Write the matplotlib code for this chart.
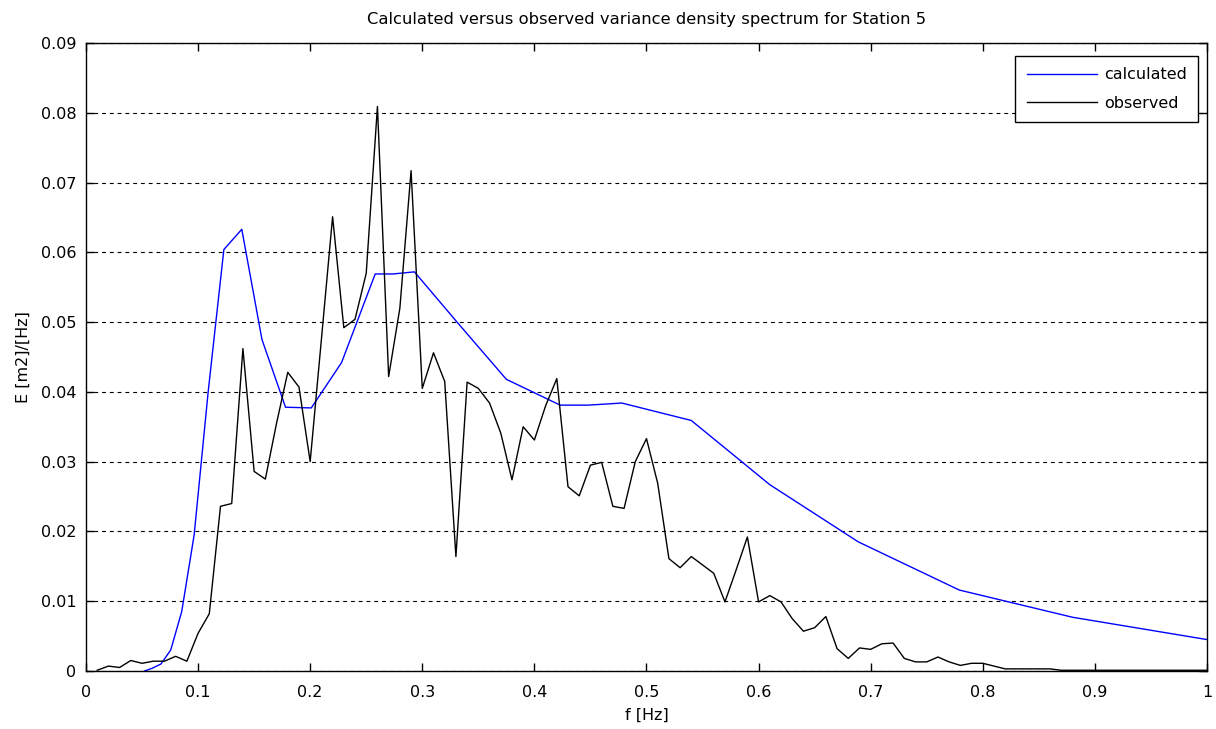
import numpy as np
import matplotlib.pyplot as plt

plt.rcParams['font.family'] = ['DejaVu Sans']

# calculated spectrum (model frequency bins)
f_calc = [0.0524, 0.0592, 0.0669, 0.0756, 0.0854, 0.0965, 0.109, 0.123, 0.139,
          0.157, 0.178, 0.201, 0.228, 0.258, 0.274, 0.293, 0.331, 0.375, 0.423,
          0.448, 0.478, 0.540, 0.610, 0.689, 0.779, 0.880, 1.0]
E_calc = [0.0, 0.0004, 0.0010, 0.0030, 0.0085, 0.0195, 0.0400, 0.0604, 0.0633,
          0.0475, 0.0378, 0.0377, 0.0442, 0.0569, 0.0569, 0.0572, 0.0500, 0.0418, 0.0381,
          0.0381, 0.0384, 0.0359, 0.0267, 0.0185, 0.0116, 0.0077, 0.0045]

# observed spectrum, 0.01 Hz steps from 0.01 to 1.0
E_obs = [0.0001, 0.0007, 0.0005, 0.0015, 0.0011, 0.0014, 0.0014, 0.0021, 0.0014, 0.0054,
         0.0082, 0.0236, 0.0240, 0.0462, 0.0286, 0.0275, 0.0355, 0.0428, 0.0407, 0.0300,
         0.0475, 0.0651, 0.0492, 0.0504, 0.0570, 0.0809, 0.0422, 0.0520, 0.0717, 0.0405,
         0.0456, 0.0415, 0.0164, 0.0414, 0.0405, 0.0384, 0.0341, 0.0274, 0.0350, 0.0331,
         0.0380, 0.0419, 0.0264, 0.0251, 0.0295, 0.0299, 0.0236, 0.0233, 0.0300, 0.0333,
         0.0269, 0.0161, 0.0148, 0.0164, 0.0152, 0.0140, 0.0099, 0.0145, 0.0192, 0.0099,
         0.0108, 0.0099, 0.0075, 0.0057, 0.0062, 0.0078, 0.0032, 0.0018, 0.0033, 0.0031,
         0.0039, 0.0040, 0.0018, 0.0013, 0.0013, 0.0020, 0.0013, 0.0008, 0.0011, 0.0011,
         0.0007, 0.0003, 0.0003, 0.0003, 0.0003, 0.0003, 0.0001, 0.0001, 0.0001, 0.0001,
         0.0001, 0.0001, 0.0001, 0.0001, 0.0001, 0.0001, 0.0001, 0.0001, 0.0001, 0.0001]
f_obs = np.round(np.arange(1, len(E_obs) + 1) * 0.01, 2)

fs = 11.5

fig = plt.figure(figsize=(12.16, 7.29), dpi=100)
ax = fig.add_axes([0.0707, 0.0796, 0.9219, 0.8614])

ax.plot(f_calc, E_calc, color='#0000ff', lw=1.0, label='calculated')
ax.plot(f_obs, E_obs, color='black', lw=1.0, label='observed')

ax.set_xlim(0, 1)
ax.set_ylim(0, 0.09)
ax.set_xticks(np.arange(0, 1.01, 0.1))
ax.set_xticklabels(['0', '0.1', '0.2', '0.3', '0.4', '0.5', '0.6', '0.7', '0.8', '0.9', '1'])
ax.set_yticks(np.arange(0, 0.091, 0.01))
ax.set_yticklabels(['0', '0.01', '0.02', '0.03', '0.04', '0.05', '0.06', '0.07', '0.08', '0.09'])
ax.tick_params(direction='in', top=True, right=True, length=6, width=1, labelsize=fs)
ax.tick_params(axis='x', pad=10)
ax.tick_params(axis='y', pad=7)
for s in ax.spines.values():
    s.set_linewidth(1)
ax.yaxis.grid(True, color='black', linestyle=(0, (3.5, 3.5)), lw=0.8)

ax.set_xlabel('f [Hz]', fontsize=fs, labelpad=6)
ax.set_ylabel('E [m2]/[Hz]', fontsize=fs, labelpad=7)
ax.set_title('Calculated versus observed variance density spectrum for Station 5', fontsize=11.8, pad=14)

leg = ax.legend(loc='upper right', bbox_to_anchor=(0.992, 0.979), fancybox=False, framealpha=1,
                edgecolor='black', fontsize=fs, handlelength=4.4, handletextpad=0.45,
                labelspacing=0.85, borderpad=0.7, borderaxespad=0)
leg.get_frame().set_linewidth(1)

fig.savefig('out.png', dpi=100)
